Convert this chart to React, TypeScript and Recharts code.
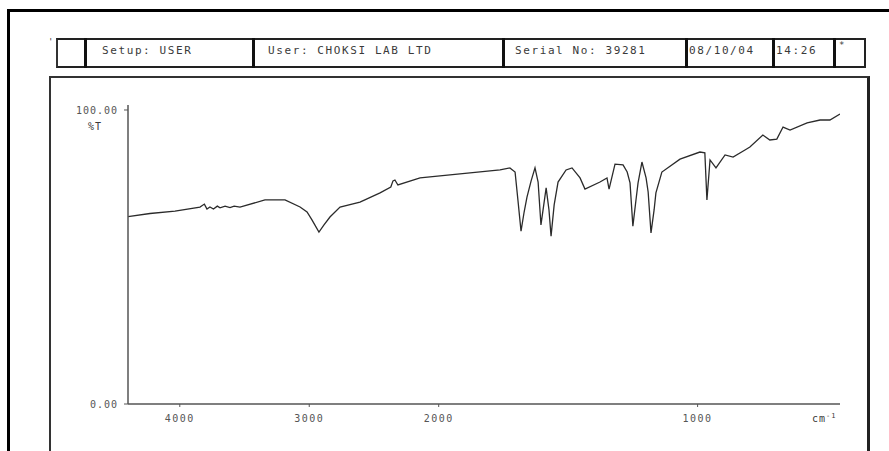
import { LineChart, Line, XAxis, YAxis } from 'recharts';

// IR spectrum (cm-1 and %T)
const wavenumbers = [
  4400, 4230, 4037, 3844, 3810, 3790, 3767, 3740, 3710, 3689, 3650, 3612, 3580, 3535,
  3342, 3187, 3071, 3017, 2979, 2925, 2886, 2840, 2762, 2608, 2453, 2370, 2353, 2338,
  2315, 2144, 1995, 1879, 1763, 1725, 1705, 1694, 1682, 1670, 1659, 1643, 1628, 1616,
  1605, 1585, 1574, 1566, 1554, 1539, 1508, 1485, 1454, 1435, 1377, 1350, 1342, 1319,
  1288, 1272, 1261, 1250, 1238, 1230, 1215, 1199, 1191, 1180, 1168, 1161, 1138, 1068,
  991, 972, 964, 952, 929, 894, 863, 817, 798, 748, 721, 694, 670, 643, 577, 527, 489, 450,
];
const transmittance = [
  63.7, 64.8, 65.6, 67.0, 68.0, 66.3, 67.0, 66.3, 67.3, 66.7, 67.3, 66.8, 67.3, 67.0,
  69.4, 69.4, 67.0, 65.3, 62.6, 58.5, 60.9, 63.6, 67.0, 68.7, 71.8, 73.8, 75.9, 76.2,
  74.5, 76.9, 77.6, 78.6, 79.6, 80.3, 78.9, 69.4, 58.8, 65.3, 70.4, 75.9, 80.3, 75.5,
  60.9, 73.5, 66.0, 57.1, 67.7, 75.5, 79.6, 80.3, 76.9, 73.1, 75.5, 76.9, 73.1, 81.6,
  81.3, 78.9, 75.2, 60.5, 69.4, 75.2, 82.3, 76.9, 72.1, 58.2, 66.0, 71.8, 78.9, 83.3,
  85.7, 85.4, 69.4, 83.0, 80.3, 84.7, 84.0, 86.4, 87.4, 91.5, 89.8, 90.1, 94.2, 93.2,
  95.6, 96.6, 96.6, 98.6,
];
const xTickValues = [4000, 3000, 2000, 1000];
const yTicks = [0, 100];

// abscissa is linear above 2000 cm-1 and expanded x2 below it
const toAxis = (wn: number) => (wn >= 2000 ? 4400 - wn : 2400 + 2 * (2000 - wn));
const fromAxis = (u: number) => (u <= 2400 ? 4400 - u : 2000 - (u - 2400) / 2);

const data = wavenumbers.map((wn, i) => ({ wn, t: transmittance[i] }));

const mono = '"DejaVu Sans Mono", "Liberation Mono", monospace';
const textStyle = { fontFamily: mono, fontSize: 11, letterSpacing: 1.6, color: '#3a3a3a' };

const headerCells = [
  { left: 56, right: 85, text: '', pad: 0 },
  { left: 85, right: 253, text: 'Setup: USER', pad: 17 },
  { left: 253, right: 503, text: 'User: CHOKSI LAB LTD', pad: 15 },
  { left: 503, right: 686, text: 'Serial No: 39281', pad: 12 },
  { left: 686, right: 773, text: '08/10/04', pad: 3 },
  { left: 773, right: 834, text: '14:26', pad: 3 },
  { left: 834, right: 862, text: '', pad: 0 },
];

export default function App() {
  return (
    <div style={{ position: 'absolute', left: 0, top: 0, width: 889, height: 451, overflow: 'hidden', background: '#fff' }}>
      {/* outer frame */}
      <div style={{ position: 'absolute', left: 7, top: 9, width: 900, height: 460, borderLeft: '3px solid #000', borderTop: '3px solid #000' }} />
      {/* header strip */}
      <div style={{ position: 'absolute', left: 56, top: 38, width: 806, height: 26, borderTop: '2px solid #222', borderBottom: '2px solid #222', borderLeft: '2px solid #333', borderRight: '2px solid #222' }} />
      {headerCells.slice(1).map((c) => (
        <div key={c.left} style={{ position: 'absolute', left: c.left - 1, top: 38, width: 3, height: 30, background: '#111' }} />
      ))}
      {headerCells.map((c) =>
        c.text ? (
          <div key={'t' + c.left} style={{ ...textStyle, position: 'absolute', left: c.left + c.pad, top: 44, whiteSpace: 'nowrap' }}>
            {c.text}
          </div>
        ) : null
      )}
      <div style={{ ...textStyle, fontSize: 9, position: 'absolute', left: 839, top: 40 }}>*</div>
      <div style={{ ...textStyle, fontSize: 9, position: 'absolute', left: 48, top: 37 }}>'</div>
      {/* plot frame */}
      <div style={{ position: 'absolute', left: 49, top: 76, width: 816, height: 400, borderLeft: '2px solid #333', borderTop: '2px solid #333', borderRight: '3px solid #222' }} />
      <div style={{ ...textStyle, fontSize: 10, letterSpacing: 1, position: 'absolute', left: 88, top: 121 }}>%T</div>
      <div style={{ ...textStyle, fontSize: 10, letterSpacing: 1, position: 'absolute', left: 812, top: 412 }}>
        cm<sup style={{ fontSize: 7 }}>-1</sup>
      </div>
      <div style={{ position: 'absolute', left: 0, top: 0 }}>
        <LineChart width={889} height={451} data={data} margin={{ top: 105, right: 49, bottom: 0, left: 50 }}>
          <XAxis
            type="number"
            dataKey={(d: { wn: number }) => toAxis(d.wn)}
            domain={[toAxis(4400), toAxis(450)]}
            ticks={xTickValues.map(toAxis)}
            tickFormatter={(u: number) => String(Math.round(fromAxis(u)))}
            height={47}
            tickSize={3}
            tickMargin={8}
            axisLine={{ stroke: '#555', strokeWidth: 1.5 }}
            tickLine={{ stroke: '#555' }}
            tick={{ fill: '#555', fontSize: 10, fontFamily: mono, letterSpacing: 1.5 }}
            allowDataOverflow
          />
          <YAxis
            type="number"
            domain={[0, 101.7]}
            ticks={yTicks}
            tickFormatter={(v: number) => v.toFixed(2)}
            width={78}
            tickSize={4}
            tickMargin={6}
            axisLine={{ stroke: '#555', strokeWidth: 1.5 }}
            tickLine={{ stroke: '#555' }}
            tick={{ fill: '#555', fontSize: 10, fontFamily: mono, letterSpacing: 1 }}
            allowDataOverflow
          />
          <Line
            type="linear"
            dataKey="t"
            stroke="#2b2b2b"
            strokeWidth={1.3}
            dot={false}
            isAnimationActive={false}
          />
        </LineChart>
      </div>
    </div>
  );
}
